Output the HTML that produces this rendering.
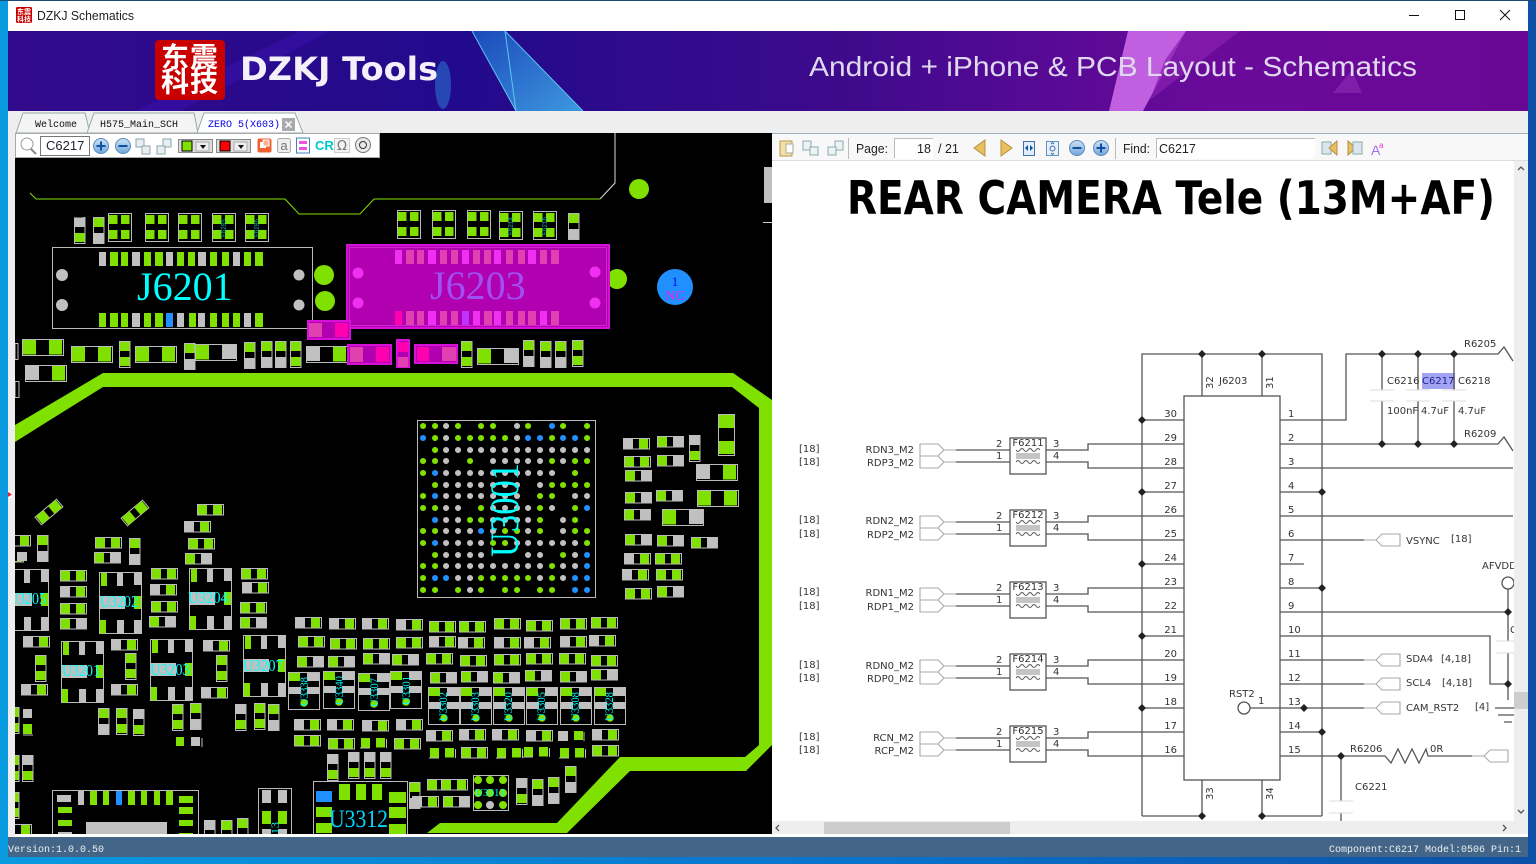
<!DOCTYPE html>
<html><head><meta charset="utf-8"><title>DZKJ Schematics</title>
<style>html,body{margin:0;padding:0;background:#0a90dc;width:1536px;height:864px;overflow:hidden}svg{display:block}
.s text{font-family:"DejaVu Sans",sans-serif;font-size:10px;fill:#333}
.s text:not([transform]){transform:translateY(-1px)}
.l{font-family:"Liberation Sans",sans-serif}
.m{font-family:"Liberation Mono",monospace;font-size:10px}
.u{font-family:"Liberation Serif",serif;fill:#0ff}
</style></head><body>
<svg width="1536" height="864" viewBox="0 0 1536 864" xmlns="http://www.w3.org/2000/svg">
<defs>
<linearGradient id="dk" x1="0" x2="1"><stop offset="0" stop-color="#0a9ae0"/><stop offset=".6" stop-color="#0a70c8"/><stop offset="1" stop-color="#0c50a8"/></linearGradient>
<linearGradient id="bn" x1="0" x2="1"><stop offset="0" stop-color="#320a8c"/><stop offset=".3" stop-color="#220a8c"/><stop offset=".55" stop-color="#3e0a8c"/><stop offset=".7" stop-color="#5a0a96"/><stop offset=".8" stop-color="#6a0a9a"/><stop offset="1" stop-color="#6a0896"/></linearGradient>
<linearGradient id="sh" x1="0" y1="0" x2="1" y2="1"><stop offset="0" stop-color="#1a50c0"/><stop offset="1" stop-color="#40a8e8"/></linearGradient>
<linearGradient id="bt" x1="0" y1="0" x2="0" y2="1"><stop offset="0" stop-color="#cfe2f6"/><stop offset="1" stop-color="#6ea8dc"/></linearGradient>
<clipPath id="pcb"><rect x="15" y="133" width="757" height="701"/></clipPath>
<clipPath id="doc"><rect x="772" y="161" width="742" height="660"/></clipPath>
<g id="a"><rect x=".5" y=".5" width="26" height="10.500" fill="#000" stroke="#bbb"/><rect x="1" y="1" width="9" height="9.500" fill="#80e000"/><rect x="16" y="1" width="9" height="9.500" fill="#80e000"/></g>
<g id="b"><rect x=".5" y=".5" width="26" height="10.500" fill="#000" stroke="#bbb"/><rect x="0" y="0" width="10" height="10.500" fill="#c0c0c0"/><rect x="16" y="1" width="9" height="9.500" fill="#80e000"/></g>
<g id="c"><rect x=".5" y=".5" width="26" height="10.500" fill="#000" stroke="#bbb"/><rect x="1" y="1" width="9" height="9.500" fill="#80e000"/><rect x="16" y="0" width="10" height="10.500" fill="#c0c0c0"/></g>
<g id="o"><path d="M26.500 2v9" stroke="#bbb"/><path d="M0 11h10" stroke="#bbb"/><rect x="1" y="1" width="9" height="9.500" fill="#80e000"/><rect x="16" y="1" width="9" height="9.500" fill="#80e000"/></g>
<g id="d"><rect x=".5" y=".5" width="10.500" height="26" fill="#000" stroke="#bbb"/><rect x="1" y="1" width="9.500" height="9" fill="#80e000"/><rect x="1" y="16" width="9.500" height="9" fill="#80e000"/></g>
<g id="e"><rect x=".5" y=".5" width="10.500" height="26" fill="#000" stroke="#bbb"/><rect x="1" y="1" width="9.500" height="9" fill="#80e000"/><rect x="0" y="16" width="10.500" height="10" fill="#c0c0c0"/></g>
<g id="f"><rect x=".5" y=".5" width="10.500" height="26" fill="#000" stroke="#bbb"/><rect x="0" y="0" width="10.500" height="10" fill="#c0c0c0"/><rect x="1" y="16" width="9.500" height="9" fill="#80e000"/></g>
<g id="A"><rect x=".5" y=".5" width="41" height="16" fill="#000" stroke="#bbb"/><rect x="1" y="1" width="13" height="14.500" fill="#80e000"/><rect x="27" y="1" width="13" height="14.500" fill="#80e000"/></g>
<g id="B"><rect x=".5" y=".5" width="41" height="16" fill="#000" stroke="#bbb"/><rect x="0" y="0" width="14" height="15" fill="#c0c0c0"/><rect x="27" y="1" width="13" height="14.500" fill="#80e000"/></g>
<g id="C"><rect x=".5" y=".5" width="41" height="16" fill="#000" stroke="#bbb"/><rect x="1" y="1" width="13" height="14.500" fill="#80e000"/><rect x="27" y="0" width="14" height="15" fill="#c0c0c0"/></g>
<g id="k"><rect x=".5" y=".5" width="23" height="28" fill="#000" stroke="#bbb"/><rect x="1" y="2" width="8.500" height="9" fill="#80e000"/><rect x="13" y="2" width="8.500" height="9" fill="#80e000"/><rect x="1" y="17" width="8.500" height="9" fill="#80e000"/><rect x="13" y="17" width="8.500" height="9" fill="#80e000"/></g>
<g id="q"><rect x=".5" y=".5" width="42" height="61" fill="#000" stroke="#bbb"/><rect x="2" y="1" width="6" height="13" fill="#80e000"/><rect x="18" y="1" width="6" height="13" fill="#c0c0c0"/><rect x="35" y="0" width="7.500" height="13" fill="#c0c0c0"/><rect x="0" y="24" width="26" height="13" fill="#c0c0c0"/><rect x="35" y="24" width="7" height="13" fill="#80e000"/><rect x="1" y="48" width="6" height="13.500" fill="#80e000"/><rect x="18" y="48" width="7" height="13.500" fill="#c0c0c0"/><rect x="35" y="48" width="7" height="13.500" fill="#c0c0c0"/></g>
<g id="n"><rect x=".5" y=".5" width="31" height="37" fill="#000" stroke="#bbb"/><rect x="1" y="1" width="11" height="8" fill="#80e000"/><rect x="19" y="1" width="12" height="8" fill="#c0c0c0"/><rect x="1" y="15" width="12" height="7" fill="#c0c0c0"/><rect x="19" y="15" width="12" height="7" fill="#c0c0c0"/><circle cx="16" cy="31" r="3.700" fill="#80e000"/></g>
</defs>

<rect width="1536" height="864" fill="url(#dk)"/>
<rect x="0" y="0" width="1536" height="1" fill="#1a4a70"/>
<rect x="8" y="1" width="1520" height="30" fill="#fff"/>
<rect x="16" y="7" width="16" height="16" rx="1.500" fill="#c80000"/>
<text x="24" y="14" font-family="'Noto Sans CJK SC',sans-serif" font-size="7" font-weight="700" fill="#fff" text-anchor="middle">东震</text>
<text x="24" y="21.500" font-family="'Noto Sans CJK SC',sans-serif" font-size="7" font-weight="700" fill="#fff" text-anchor="middle">科技</text>
<text x="37" y="20" class="l" font-size="12.500" fill="#222" textLength="97" lengthAdjust="spacingAndGlyphs">DZKJ Schematics</text>
<path d="M1409 15.500h10" stroke="#111"/><rect x="1455.500" y="10.500" width="9" height="9" fill="none" stroke="#111"/><path d="M1500 10l10 10M1510 10l-10 10" stroke="#111"/>

<!-- banner -->
<rect x="8" y="31" width="1520" height="80" fill="url(#bn)"/>
<polygon points="300,31 330,31 180,111 135,111" fill="#3a12b0" opacity=".5"/>
<ellipse cx="443" cy="85" rx="8" ry="24" fill="#2a70d0" opacity=".6"/>
<polygon points="472,31 505,31 583,111 516,111" fill="url(#sh)" opacity=".9"/>
<path d="M472 31L516 111M505 31L516 111M505 31L583 111" stroke="#5cc8f0" fill="none"/>
<polygon points="1128,31 1186,31 1143,111 1109,111" fill="#c060e0"/>
<polygon points="1186,31 1240,31 1150,100 1165,60" fill="#8a20b0" opacity=".7"/>
<polygon points="1333,93 1362,93 1352,70" fill="#8a28b0" opacity=".7"/>
<rect x="155" y="40" width="70" height="60" rx="4" fill="#c80000"/>
<text x="161" y="67" font-family="'Noto Sans CJK SC',sans-serif" font-size="28" font-weight="700" fill="#fff" letter-spacing="1">东震</text>
<text x="161" y="91.500" font-family="'Noto Sans CJK SC',sans-serif" font-size="28" font-weight="700" fill="#fff" letter-spacing="1">科技</text>
<text x="240" y="80" font-family="'DejaVu Sans',sans-serif" font-weight="700" font-size="32" fill="#f4f0fa" textLength="198" lengthAdjust="spacingAndGlyphs">DZKJ Tools</text>
<text x="809" y="76" class="l" font-size="28" fill="#e0d8ee" textLength="608" lengthAdjust="spacingAndGlyphs">Android + iPhone &amp; PCB Layout - Schematics</text>

<!-- body chrome -->
<rect x="8" y="111" width="1520" height="746" fill="#eee"/>
<path d="M16 133l7-20h62l5 20z" fill="#f4f4f4" stroke="#9aa"/>
<path d="M87 133l7-20h100l4 20z" fill="#f4f4f4" stroke="#9aa"/>
<path d="M197 133l7-20h91l8 20z" fill="#fff" stroke="#9aa"/>
<text x="35" y="127" class="m" fill="#111">Welcome</text>
<text x="100" y="127" class="m" fill="#111">H575_Main_SCH</text>
<text x="208" y="127" class="m" fill="#0000e0">ZERO 5(X603)</text>
<rect x="282" y="118" width="13" height="13" fill="#aaa"/><path d="M285.500 121.500l6 6M291.500 121.500l-6 6" stroke="#fff" stroke-width="1.500"/>

<!-- PCB -->
<rect x="15" y="133" width="757" height="701" fill="#000"/>
<g clip-path="url(#pcb)">
<path d="M30 193l6 6H285l14 15H360l14-15H600" fill="none" stroke="#80e000" stroke-width="1"/>
<path d="M600 199L615 183V133" fill="none" stroke="#ddd" stroke-width="1"/>
<rect x="764" y="167" width="8" height="36" fill="#c0c0c0"/><path d="M763 222.500h9" stroke="#ccc"/>
<polygon points="103,373 733,373 772,400 772,745 746,771 630,771 567,833 427,833 440,823 557,823 620,757 745,757 759,745 759,408 732,387 103,387 50,420 15,442 15,425" fill="#80e000"/>
<circle cx="639" cy="189" r="10" fill="#80e000"/>

<use href="#f" x="74" y="217"/><use href="#e" x="93" y="217"/>
<path d="M74.500 217h9" stroke="#000"/>
<use href="#k" x="108" y="213"/><use href="#k" x="145" y="213"/><use href="#k" x="178" y="213"/><use href="#k" x="212" y="213"/><use href="#k" x="245" y="213"/>
<use href="#k" x="397" y="210"/><use href="#k" x="432" y="210"/><use href="#k" x="467" y="210"/><use href="#k" x="499" y="211"/><use href="#k" x="533" y="211"/><use href="#e" x="568" y="213"/>
<g font-family="'Liberation Mono',monospace" font-size="7" fill="#00b8b8"><text transform="translate(226,237) rotate(-90)" textLength="18" lengthAdjust="spacingAndGlyphs">F6205</text><text transform="translate(259,237) rotate(-90)" textLength="18" lengthAdjust="spacingAndGlyphs">F6206</text><text transform="translate(513,235) rotate(-90)" textLength="18" lengthAdjust="spacingAndGlyphs">F6214</text><text transform="translate(547,235) rotate(-90)" textLength="18" lengthAdjust="spacingAndGlyphs">F6216</text></g>

<!-- J6201 -->
<rect x="52.500" y="247.500" width="260" height="81" fill="#000" stroke="#bbb"/>
<g fill="#c0c0c0"><rect x="99" y="252" width="7" height="14"/><rect x="132" y="252" width="8" height="14"/><rect x="166" y="252" width="7" height="14"/><rect x="198" y="252" width="8" height="14"/><rect x="233" y="252" width="7" height="14"/>
<rect x="132" y="313" width="8" height="14"/><rect x="177" y="313" width="7" height="14"/><rect x="198" y="313" width="7" height="14"/><rect x="244" y="313" width="7" height="14"/>
<circle cx="62" cy="275" r="6"/><circle cx="62" cy="305" r="6"/><circle cx="299" cy="275" r="5.500"/><circle cx="299" cy="305" r="5.500"/></g>
<g fill="#80e000"><rect x="110" y="252" width="8" height="14"/><rect x="121" y="252" width="7" height="14"/><rect x="144" y="252" width="7" height="14"/><rect x="155" y="252" width="8" height="14"/><rect x="177" y="252" width="7" height="14"/><rect x="188" y="252" width="7" height="14"/><rect x="210" y="252" width="7" height="14"/><rect x="222" y="252" width="7" height="14"/><rect x="244" y="252" width="7" height="14"/><rect x="255" y="252" width="8" height="14"/>
<rect x="99" y="313" width="7" height="14"/><rect x="110" y="313" width="8" height="14"/><rect x="121" y="313" width="7" height="14"/><rect x="144" y="313" width="7" height="14"/><rect x="155" y="313" width="8" height="14"/><rect x="189" y="313" width="7" height="14"/><rect x="210" y="313" width="7" height="14"/><rect x="222" y="313" width="7" height="14"/><rect x="233" y="313" width="7" height="14"/><rect x="255" y="313" width="8" height="14"/>
<circle cx="324" cy="275" r="10"/><circle cx="325" cy="301" r="10"/><circle cx="617" cy="279" r="10"/></g>
<rect x="166" y="313" width="7" height="14" fill="#2090ff"/>
<text x="137" y="300" class="u" font-size="40">J6201</text>

<!-- J6203 -->
<rect x="347" y="245" width="262" height="83" fill="#b000b0" stroke="#d810d8" stroke-width="2"/>
<rect x="349.500" y="247.500" width="257" height="78" fill="none" stroke="#d830d8" stroke-width=".8"/>
<g fill="#f030f0"><rect x="395" y="250" width="7" height="14"/><rect x="428" y="250" width="8" height="14"/><rect x="462" y="250" width="7" height="14"/><rect x="494" y="250" width="7" height="14"/><rect x="528" y="250" width="8" height="14"/><rect x="428" y="311" width="8" height="14"/><rect x="473" y="311" width="7" height="14"/><rect x="494" y="311" width="7" height="14"/><rect x="540" y="311" width="7" height="14"/>
<circle cx="358" cy="273" r="5.500"/><circle cx="358" cy="303" r="5.500"/><circle cx="595" cy="272" r="5.500"/><circle cx="595" cy="303" r="5.500"/></g>
<g fill="#e040b0"><rect x="406" y="250" width="8" height="14"/><rect x="417" y="250" width="7" height="14"/><rect x="440" y="250" width="7" height="14"/><rect x="451" y="250" width="7" height="14"/><rect x="473" y="250" width="7" height="14"/><rect x="484" y="250" width="7" height="14"/><rect x="506" y="250" width="7" height="14"/><rect x="518" y="250" width="7" height="14"/><rect x="540" y="250" width="7" height="14"/><rect x="551" y="250" width="8" height="14"/>
<rect x="406" y="311" width="8" height="14"/><rect x="417" y="311" width="7" height="14"/><rect x="440" y="311" width="7" height="14"/><rect x="451" y="311" width="7" height="14"/><rect x="484" y="311" width="8" height="14"/><rect x="506" y="311" width="7" height="14"/><rect x="518" y="311" width="7" height="14"/><rect x="528" y="311" width="8" height="14"/><rect x="551" y="311" width="8" height="14"/></g>
<rect x="395" y="311" width="7" height="14" fill="#ff00b0"/><rect x="462" y="311" width="7" height="14" fill="#c030ff"/>
<text x="430" y="299" class="u" font-size="40" style="fill:#a050f0">J6203</text>

<circle cx="675" cy="287" r="18" fill="#2090ff"/>
<text x="675" y="286" class="u" font-size="13" text-anchor="middle" style="fill:#0000ff">1</text>
<text x="675" y="300" class="u" font-size="14" text-anchor="middle" style="fill:#f020e0">NC</text>

<!-- row below connectors -->
<use href="#A" x="22" y="339"/><use href="#A" x="71" y="346"/><use href="#d" x="119" y="341"/><use href="#A" x="135" y="346"/><use href="#e" x="184" y="343"/><use href="#C" x="195" y="344"/><use href="#e" x="244" y="342"/><use href="#e" x="261" y="341"/><use href="#e" x="275" y="341"/><use href="#d" x="290" y="341"/><use href="#B" x="306" y="346"/>
<use href="#B" x="25" y="365"/><rect x="15" y="343.500" width="3" height="16" fill="none" stroke="#bbb"/><rect x="15" y="381.500" width="4" height="16" fill="none" stroke="#bbb"/>
<use href="#d" x="461" y="341"/><use href="#C" x="477" y="348"/><use href="#e" x="523" y="340"/><use href="#e" x="540" y="341"/><use href="#e" x="555" y="341"/><use href="#d" x="572" y="340"/>
<g><rect x="308" y="321" width="42" height="18" fill="#b000b0" stroke="#d810d8" stroke-width="2"/><rect x="309" y="323" width="13" height="14" fill="#e040b0"/><rect x="335" y="323" width="13" height="14" fill="#ff00b0"/>
<rect x="348" y="345" width="43" height="19" fill="#b000b0" stroke="#d810d8" stroke-width="2"/><rect x="350" y="347" width="13" height="15" fill="#e040b0"/><rect x="376" y="347" width="13" height="15" fill="#ff00b0"/>
<rect x="397" y="340" width="12" height="27" fill="#b000b0" stroke="#d810d8" stroke-width="2"/><rect x="398" y="342" width="10" height="10" fill="#ff00b0"/><rect x="398" y="357" width="10" height="10" fill="#e040b0"/>
<rect x="415" y="345" width="42" height="18" fill="#b000b0" stroke="#d810d8" stroke-width="2"/><rect x="417" y="347" width="12" height="14" fill="#ff00b0"/><rect x="442" y="347" width="14" height="14" fill="#e040b0"/></g>

<!-- U3001 -->
<rect x="417.500" y="420.500" width="178" height="177" fill="none" stroke="#bbb"/>
<path stroke-linecap="round" stroke-width="6" fill="none" stroke="#80e000" d="M423 426h.1M435 426h.1M458 426h.1M481 426h.1M493 426h.1M528 426h.1M563 426h.1M587 426h.1M435 438h.1M458 438h.1M470 438h.1M481 438h.1M493 438h.1M505 438h.1M552 438h.1M587 438h.1M435 450h.1M423 461h.1M435 461h.1M470 461h.1M552 461h.1M575 461h.1M587 461h.1M423 473h.1M575 473h.1M435 485h.1M552 485h.1M563 485h.1M575 485h.1M587 485h.1M423 496h.1M540 496h.1M552 496h.1M423 508h.1M435 508h.1M481 508h.1M540 508h.1M575 508h.1M470 520h.1M481 520h.1M540 520h.1M575 520h.1M423 531h.1M435 531h.1M505 531h.1M517 531h.1M540 531h.1M575 531h.1M587 531h.1M423 543h.1M493 543h.1M505 543h.1M587 543h.1M435 555h.1M563 555h.1M423 566h.1M435 566h.1M552 566h.1M423 578h.1M481 578h.1M493 578h.1M505 578h.1M517 578h.1M528 578h.1M552 578h.1M423 590h.1M435 590h.1M458 590h.1M481 590h.1M505 590h.1M517 590h.1M540 590h.1M552 590h.1"/>
<path stroke-linecap="round" stroke-width="6" fill="none" stroke="#c0c0c0" d="M446 426h.1M517 426h.1M446 438h.1M517 438h.1M446 450h.1M458 450h.1M470 450h.1M481 450h.1M493 450h.1M505 450h.1M517 450h.1M528 450h.1M540 450h.1M552 450h.1M563 450h.1M575 450h.1M587 450h.1M446 461h.1M493 461h.1M505 461h.1M517 461h.1M528 461h.1M540 461h.1M563 461h.1M446 473h.1M458 473h.1M470 473h.1M481 473h.1M493 473h.1M505 473h.1M517 473h.1M528 473h.1M540 473h.1M552 473h.1M446 485h.1M458 485h.1M470 485h.1M481 485h.1M493 485h.1M505 485h.1M517 485h.1M540 485h.1M446 496h.1M458 496h.1M470 496h.1M481 496h.1M493 496h.1M505 496h.1M517 496h.1M575 496h.1M587 496h.1M446 508h.1M458 508h.1M493 508h.1M505 508h.1M517 508h.1M528 508h.1M552 508h.1M446 520h.1M458 520h.1M493 520h.1M505 520h.1M517 520h.1M528 520h.1M563 520h.1M446 531h.1M458 531h.1M470 531h.1M493 531h.1M528 531h.1M563 531h.1M446 543h.1M458 543h.1M470 543h.1M481 543h.1M517 543h.1M528 543h.1M540 543h.1M552 543h.1M563 543h.1M575 543h.1M446 555h.1M458 555h.1M470 555h.1M481 555h.1M528 555h.1M540 555h.1M575 555h.1M446 566h.1M458 566h.1M470 566h.1M481 566h.1M493 566h.1M505 566h.1M517 566h.1M528 566h.1M540 566h.1M563 566h.1M575 566h.1M458 578h.1M470 578h.1M540 578h.1M563 578h.1M470 590h.1"/>
<path stroke-linecap="round" stroke-width="6" fill="none" stroke="#2090ff" d="M552 426h.1M423 438h.1M528 438h.1M540 438h.1M563 438h.1M575 438h.1M435 473h.1M435 496h.1M587 508h.1M435 520h.1M481 531h.1M435 543h.1M587 555h.1M587 566h.1M435 578h.1M446 578h.1M575 578h.1M587 578h.1M575 590h.1M587 590h.1"/>
<text transform="translate(518,557) rotate(-90)" class="u" font-size="40" textLength="94" lengthAdjust="spacingAndGlyphs">U3001</text>

<!-- right of BGA -->
<use href="#b" x="623" y="438"/><use href="#c" x="657" y="436"/><use href="#f" x="689" y="435"/>
<g transform="translate(718,414)"><rect x=".5" y=".5" width="16" height="41" fill="#000" stroke="#bbb"/><rect x="1" y="1" width="15" height="13" fill="#80e000"/><rect x="1" y="27" width="15" height="13" fill="#80e000"/></g>
<use href="#a" x="624" y="456"/><use href="#c" x="657" y="455"/><use href="#c" x="625" y="470"/><use href="#B" x="696" y="464"/><use href="#c" x="625" y="492"/><use href="#c" x="656" y="490"/><use href="#A" x="697" y="490"/><use href="#c" x="624" y="509"/><use href="#C" x="662" y="509"/><use href="#c" x="625" y="534"/><use href="#c" x="657" y="535"/><use href="#c" x="691" y="537"/><use href="#b" x="624" y="553"/><use href="#a" x="655" y="553"/><use href="#b" x="622" y="569"/><use href="#a" x="656" y="569"/><use href="#a" x="625" y="588"/><use href="#c" x="657" y="586"/>

<!-- left area -->
<g transform="translate(49,512) rotate(-40)"><rect x="-14" y="-5" width="28" height="10" fill="none" stroke="#bbb"/><rect x="-13" y="-5" width="10" height="10" fill="#80e000"/><rect x="3" y="-5" width="10" height="10" fill="#80e000"/></g>
<g transform="translate(135,513) rotate(-40)"><rect x="-14" y="-5" width="28" height="10" fill="none" stroke="#bbb"/><rect x="-13" y="-5" width="10" height="10" fill="#80e000"/><rect x="3" y="-5" width="10" height="10" fill="#80e000"/></g>
<use href="#a" x="197" y="504"/><use href="#b" x="184" y="521"/><use href="#a" x="188" y="538"/><use href="#c" x="185" y="553"/><use href="#a" x="95" y="537"/><use href="#e" x="129" y="538"/><use href="#c" x="94" y="552"/>
<use href="#b" x="4" y="535"/><use href="#b" x="-3" y="551"/><rect x="15" y="551" width="12" height="10" fill="#000"/><rect x="17" y="552" width="10" height="9" fill="#c0c0c0"/><use href="#e" x="37" y="535"/>
<use href="#q" x="6" y="569"/><use href="#q" x="99" y="572"/><use href="#q" x="189" y="568"/><use href="#q" x="61" y="641"/><use href="#q" x="150" y="639"/><use href="#q" x="243" y="635"/>
<g class="u" font-size="17" font-family="'Liberation Serif',serif"><text x="8" y="604" textLength="38" lengthAdjust="spacingAndGlyphs">U3205</text><text x="100" y="607" textLength="38" lengthAdjust="spacingAndGlyphs">U3202</text><text x="188" y="603" textLength="40" lengthAdjust="spacingAndGlyphs">U3204</text><text x="62" y="676" textLength="38" lengthAdjust="spacingAndGlyphs">U3201</text><text x="150" y="675" textLength="40" lengthAdjust="spacingAndGlyphs">U3203</text><text x="243" y="671" textLength="40" lengthAdjust="spacingAndGlyphs">U3207</text></g>
<use href="#a" x="151" y="568"/><use href="#b" x="150" y="584"/><use href="#a" x="151" y="601"/><use href="#c" x="149" y="616"/>
<use href="#a" x="60" y="570"/><use href="#b" x="60" y="586"/><use href="#a" x="60" y="603"/><use href="#c" x="60" y="618"/>
<use href="#a" x="241" y="568"/><use href="#b" x="242" y="582"/><use href="#a" x="240" y="602"/><use href="#c" x="240" y="617"/>
<use href="#b" x="23" y="636"/><use href="#d" x="35" y="655"/><use href="#b" x="21" y="684"/><use href="#b" x="111" y="639"/><use href="#d" x="125" y="653"/><use href="#b" x="111" y="684"/><use href="#b" x="203" y="640"/><use href="#d" x="216" y="655"/><use href="#b" x="201" y="687"/>
<use href="#e" x="98" y="708"/><use href="#d" x="116" y="708"/><use href="#f" x="133" y="709"/><use href="#d" x="172" y="704"/><use href="#e" x="190" y="703"/><use href="#f" x="235" y="704"/><use href="#d" x="254" y="703"/><use href="#e" x="268" y="704"/>
<use href="#d" x="8" y="707"/><rect x="23" y="709" width="9" height="9" fill="#c0c0c0"/><rect x="23" y="724" width="9" height="10" fill="#80e000"/><path d="M23 735h10" stroke="#bbb"/>
<use href="#d" x="8" y="755"/><use href="#f" x="22" y="755"/><use href="#d" x="8" y="792"/><use href="#b" x="5" y="824"/>
<rect x="176" y="737" width="8" height="9" fill="#80e000"/><rect x="191" y="737" width="9" height="9" fill="#c0c0c0"/><path d="M202 738v9" stroke="#bbb"/>

<!-- rows -->
<use href="#b" x="295" y="617"/><use href="#b" x="329" y="618"/><use href="#b" x="362" y="618"/><use href="#b" x="396" y="619"/><use href="#a" x="429" y="621"/><use href="#a" x="459" y="621"/><use href="#a" x="494" y="618"/><use href="#a" x="526" y="620"/><use href="#a" x="560" y="618"/><use href="#a" x="591" y="617"/>
<use href="#a" x="298" y="636"/><use href="#a" x="330" y="638"/><use href="#a" x="363" y="638"/><use href="#a" x="396" y="637"/><use href="#b" x="429" y="636"/><use href="#b" x="458" y="637"/><use href="#b" x="494" y="637"/><use href="#b" x="524" y="637"/><use href="#b" x="560" y="636"/><use href="#b" x="589" y="635"/>
<use href="#c" x="297" y="656"/><use href="#c" x="328" y="656"/><use href="#c" x="363" y="653"/><use href="#c" x="392" y="654"/><use href="#a" x="426" y="653"/><use href="#a" x="460" y="655"/><use href="#a" x="494" y="654"/><use href="#a" x="526" y="653"/><use href="#a" x="559" y="653"/><use href="#a" x="591" y="655"/>
<use href="#c" x="430" y="672"/><use href="#c" x="461" y="671"/><use href="#c" x="493" y="672"/><use href="#c" x="525" y="670"/><use href="#c" x="560" y="671"/><use href="#c" x="591" y="669"/>
<use href="#n" x="288" y="672"/><use href="#n" x="323" y="671"/><use href="#n" x="358" y="673"/><use href="#n" x="390" y="671"/><use href="#n" x="428" y="687"/><use href="#n" x="460" y="687"/><use href="#n" x="493" y="687"/><use href="#n" x="526" y="687"/><use href="#n" x="560" y="687"/><use href="#n" x="594" y="687"/>
<g class="u" font-size="12" font-family="'Liberation Mono',monospace"><text transform="translate(308,706) rotate(-90)" textLength="29" lengthAdjust="spacingAndGlyphs">U3338</text><text transform="translate(343,705) rotate(-90)" textLength="29" lengthAdjust="spacingAndGlyphs">U3340</text><text transform="translate(378,707) rotate(-90)" textLength="29" lengthAdjust="spacingAndGlyphs">U3307</text><text transform="translate(410,705) rotate(-90)" textLength="29" lengthAdjust="spacingAndGlyphs">U3301</text><text transform="translate(447,721) rotate(-90)" textLength="29" lengthAdjust="spacingAndGlyphs">U3302</text><text transform="translate(479,721) rotate(-90)" textLength="29" lengthAdjust="spacingAndGlyphs">U3303</text><text transform="translate(512,721) rotate(-90)" textLength="29" lengthAdjust="spacingAndGlyphs">U3320</text><text transform="translate(545,721) rotate(-90)" textLength="29" lengthAdjust="spacingAndGlyphs">U3305</text><text transform="translate(579,721) rotate(-90)" textLength="29" lengthAdjust="spacingAndGlyphs">U3308</text><text transform="translate(613,721) rotate(-90)" textLength="29" lengthAdjust="spacingAndGlyphs">U3328</text></g>
<use href="#b" x="294" y="719"/><use href="#b" x="327" y="719"/><use href="#b" x="362" y="720"/><use href="#b" x="396" y="719"/><use href="#b" x="426" y="730"/><use href="#b" x="459" y="729"/><use href="#b" x="492" y="729"/><use href="#b" x="526" y="730"/><rect x="558" y="731" width="10" height="10" fill="#c0c0c0"/><rect x="574" y="731" width="9" height="9" fill="#80e000"/><path d="M584 732v9" stroke="#bbb"/><use href="#b" x="592" y="729"/>
<use href="#a" x="294" y="735"/><use href="#a" x="328" y="738"/><use href="#o" x="360" y="737"/><use href="#a" x="394" y="738"/><use href="#o" x="429" y="747"/><use href="#a" x="461" y="747"/><use href="#o" x="496" y="747"/><use href="#o" x="523" y="746"/><use href="#o" x="559" y="747"/><use href="#a" x="592" y="745"/>
<use href="#f" x="327" y="754"/><use href="#f" x="348" y="752"/><use href="#f" x="364" y="752"/><use href="#f" x="380" y="752"/>
<use href="#e" x="409" y="782"/><use href="#a" x="427" y="779"/><use href="#a" x="441" y="779"/><use href="#b" x="412" y="796"/><use href="#c" x="443" y="796"/>

<!-- U3312 -->
<rect x="313.500" y="781.500" width="94" height="54" fill="#000" stroke="#bbb"/>
<rect x="316" y="791" width="16" height="11" fill="#2090ff"/>
<g fill="#80e000"><rect x="339" y="784" width="11" height="16"/><rect x="356" y="784" width="10" height="16"/><rect x="372" y="784" width="10" height="16"/><rect x="389" y="792" width="17" height="11"/><rect x="389" y="807" width="17" height="11"/><rect x="389" y="824" width="17" height="11"/><rect x="316" y="807" width="16" height="10"/><rect x="316" y="823" width="16" height="10"/></g>
<text x="329" y="827" class="u" font-size="25" textLength="59" lengthAdjust="spacingAndGlyphs" style="fill:#00d8ff">U3312</text>

<!-- U3313 -->
<rect x="473.500" y="775.500" width="35" height="35" fill="#000" stroke="#bbb"/>
<g fill="#80e000"><circle cx="478" cy="780" r="4"/><circle cx="490" cy="780" r="4"/><circle cx="503" cy="780" r="4"/><circle cx="478" cy="793" r="4"/><circle cx="490" cy="793" r="4"/><circle cx="503" cy="793" r="4"/><circle cx="478" cy="805" r="4"/><circle cx="503" cy="805" r="4"/></g><circle cx="490" cy="805" r="4" fill="#c0c0c0"/>
<text x="475" y="796" class="u" font-size="11" textLength="30" lengthAdjust="spacingAndGlyphs">U3313</text>
<use href="#f" x="516" y="778"/><use href="#e" x="532" y="779"/><use href="#e" x="548" y="777"/><use href="#e" x="565" y="766"/>

<!-- bottom-left chip -->
<rect x="52.500" y="790.500" width="146" height="50" fill="#000" stroke="#bbb"/>
<rect x="57" y="795" width="14" height="7" fill="#c0c0c0"/><rect x="78" y="791" width="6" height="14" fill="#c0c0c0"/><rect x="86" y="822" width="81" height="13" fill="#c0c0c0"/>
<g fill="#80e000"><rect x="90" y="791" width="7" height="14"/><rect x="103" y="791" width="6" height="14"/><rect x="128" y="791" width="7" height="14"/><rect x="141" y="791" width="6" height="14"/><rect x="154" y="791" width="6" height="14"/><rect x="166" y="791" width="7" height="14"/><rect x="58" y="807" width="14" height="6"/><rect x="58" y="820" width="14" height="6"/><rect x="179" y="796" width="14" height="7"/><rect x="179" y="807" width="14" height="7"/><rect x="179" y="820" width="14" height="6"/><rect x="179" y="833" width="14" height="3"/></g>
<rect x="58" y="832" width="14" height="3" fill="#c0c0c0"/><rect x="116" y="791" width="6" height="14" fill="#2090ff"/>
<use href="#f" x="204" y="820"/><use href="#e" x="221" y="820"/><use href="#e" x="237" y="818"/>
<rect x="258.500" y="788.500" width="33" height="50" fill="#000" stroke="#bbb"/>
<g fill="#c0c0c0"><rect x="262" y="790" width="9" height="13"/><rect x="278" y="790" width="9" height="13"/><rect x="262" y="829" width="9" height="6"/><rect x="278" y="829" width="9" height="6"/></g>
<rect x="262" y="811" width="9" height="13" fill="#80e000"/><rect x="278" y="811" width="9" height="13" fill="#80e000"/>
<text transform="translate(279,834) rotate(-90)" class="u" font-size="12">13</text>
</g>

<!-- left toolbar -->
<rect x="15.500" y="133.500" width="364" height="24" fill="#fff" stroke="#aaa"/>
<circle cx="27" cy="144" r="6" fill="none" stroke="#999"/><path d="M31 149l5 5" stroke="#888" stroke-width="2"/>
<rect x="40.500" y="136.500" width="49" height="19" fill="#fff" stroke="#777"/>
<text x="46" y="150" class="l" font-size="13" fill="#223">C6217</text>
<circle cx="101" cy="146" r="7.500" fill="url(#bt)" stroke="#5a8abc"/><path d="M96.500 146h9M101 141.500v9" stroke="#1050a0" stroke-width="2"/>
<circle cx="123" cy="146" r="7.500" fill="url(#bt)" stroke="#5a8abc"/><path d="M118.500 146h9" stroke="#1050a0" stroke-width="2"/>
<g fill="#e8eef4" stroke="#8aa"><rect x="136" y="139" width="8" height="8"/><rect x="142" y="146" width="8" height="8"/><rect x="163" y="139" width="8" height="8"/><rect x="157" y="146" width="8" height="8"/></g>
<g><rect x="178.500" y="139.500" width="34" height="13" fill="#ddd" stroke="#888"/><rect x="182" y="141" width="10" height="10" fill="#80e000" stroke="#000"/><rect x="196" y="142" width="13" height="9" fill="#eee" stroke="#aaa"/><path d="M200 145h6l-3 4z" fill="#111"/>
<rect x="216.500" y="139.500" width="34" height="13" fill="#ddd" stroke="#888"/><rect x="220" y="141" width="10" height="10" fill="#f00" stroke="#000"/><rect x="234" y="142" width="13" height="9" fill="#eee" stroke="#aaa"/><path d="M238 145h6l-3 4z" fill="#111"/></g>
<rect x="257.500" y="138.500" width="14" height="14" rx="2" fill="#f06030"/><rect x="260" y="142" width="6" height="6" fill="#fff"/><rect x="263" y="140" width="6" height="6" fill="#f8b090" stroke="#fff"/>
<rect x="277.500" y="138.500" width="13" height="14" rx="2" fill="#eee" stroke="#aaa"/><text x="284" y="150" text-anchor="middle" class="l" font-size="13" fill="#777">a</text>
<rect x="296.500" y="138" width="13" height="15" fill="#fff" stroke="#4080c0"/><rect x="299" y="141" width="8" height="3" fill="#f050e0"/><rect x="299" y="147" width="8" height="3" fill="#f050e0"/>
<text x="315" y="150" class="l" font-size="13" font-weight="700" fill="#00c8d0">CR</text>
<rect x="334.500" y="138.500" width="15" height="14" fill="#f2f2f2" stroke="#ccc"/><text x="342" y="150" text-anchor="middle" font-family="'DejaVu Sans',sans-serif" font-size="13" fill="#777">Ω</text>
<circle cx="363" cy="145" r="7.500" fill="#e8e8e8" stroke="#777"/><circle cx="363" cy="145" r="3.500" fill="none" stroke="#333"/>

<!-- right toolbar -->
<rect x="772" y="133" width="756" height="28" fill="#f8f8f8"/>
<path d="M772 133.500H1528" stroke="#a0b0bc"/><path d="M772 160.500H1528" stroke="#ddd"/>
<rect x="780" y="141" width="12" height="15" fill="#f4e0a8" stroke="#b89850"/><rect x="786" y="144" width="7" height="9" fill="#fff" stroke="#aa9"/>
<g fill="#eef2f6" stroke="#8aa"><rect x="803" y="141" width="8" height="9"/><rect x="810" y="147" width="8" height="8"/><rect x="835" y="141" width="8" height="9"/><rect x="828" y="147" width="8" height="8"/></g>
<path d="M848.500 138v21M1115.500 138v21" stroke="#bbb"/>
<text x="856" y="153" class="l" font-size="12.500" fill="#222" textLength="32" lengthAdjust="spacingAndGlyphs">Page:</text>
<rect x="894" y="138.500" width="39" height="20" fill="#fff"/><path d="M894.500 158V138.500H933" stroke="#bbb" fill="none"/>
<text x="917" y="153" class="l" font-size="12.500" fill="#222">18</text>
<text x="938" y="153" class="l" font-size="12.500" fill="#222">/ 21</text>
<path d="M985 140v16l-11-8z" fill="#e8c060" stroke="#b89040"/><path d="M1001 140v16l11-8z" fill="#e8c060" stroke="#b89040"/>
<rect x="1023.500" y="141.500" width="11" height="14" fill="#e0ecf8" stroke="#4070b0"/><path d="M1028 145l-3 3 3 3zM1030 145l3 3-3 3z" fill="#1050a0"/>
<rect x="1046.500" y="141.500" width="12" height="14" fill="#e8f0f8" stroke="#6090c0"/><circle cx="1052.500" cy="148.500" r="2.500" fill="none" stroke="#4070b0"/><path d="M1051 144l1.500-1.500 1.500 1.500M1051 153l1.500 1.500 1.500-1.500" fill="none" stroke="#4070b0"/>
<circle cx="1077" cy="148" r="7.500" fill="url(#bt)" stroke="#5a8abc"/><path d="M1072.500 148h9" stroke="#1050a0" stroke-width="2"/>
<circle cx="1101" cy="148" r="7.500" fill="url(#bt)" stroke="#5a8abc"/><path d="M1096.500 148h9M1101 143.500v9" stroke="#1050a0" stroke-width="2"/>
<text x="1123" y="153" class="l" font-size="12.500" fill="#222" textLength="27" lengthAdjust="spacingAndGlyphs">Find:</text>
<rect x="1156" y="138.500" width="159" height="20" fill="#fff"/><path d="M1156.500 158V138.500H1315" stroke="#bbb" fill="none"/>
<text x="1159" y="153" class="l" font-size="12.500" fill="#222">C6217</text>
<rect x="1322" y="142" width="9" height="12" fill="#dde6ee" stroke="#8aa"/><path d="M1337 141v14l-8-7z" fill="#e8c060" stroke="#b89040"/>
<path d="M1348 141v14l8-7z" fill="#e8c060" stroke="#b89040"/><rect x="1353" y="142" width="9" height="12" fill="#dde6ee" stroke="#8aa"/>
<text x="1371" y="155" class="l" font-size="14" fill="#9a70f0">A</text><text x="1379" y="148" class="l" font-size="8" fill="#f030c0">a</text>

<!-- doc -->
<rect x="772" y="161" width="742" height="660" fill="#fff"/>
<rect x="1514" y="161" width="14" height="660" fill="#eee"/>
<rect x="1514" y="692" width="14" height="17" fill="#cdcdcd"/>
<path d="M1518 170l3-3 3 3M1518 810l3 3 3-3M779 825l-3 3 3 3M1503 825l3 3-3 3" fill="none" stroke="#555" stroke-width="1.300"/>
<rect x="824" y="822" width="186" height="12" fill="#cdcdcd"/>
<rect x="772" y="834" width="756" height="3" fill="#fff"/><rect x="15" y="834" width="757" height="3" fill="#fff"/>
<text x="847" y="214" font-family="'DejaVu Sans',sans-serif" font-size="46" font-weight="700" fill="#000" textLength="648" lengthAdjust="spacingAndGlyphs">REAR CAMERA Tele (13M+AF)</text>

<g class="s" clip-path="url(#doc)">
<rect x="1422" y="373" width="33" height="16" fill="#a4a4f4"/>
<g fill="none" stroke="#555" stroke-width="1.300">
<path d="M1142 816V354H1322V816"/><path d="M1142 816H1202M1262 816H1322"/>
<rect x="1184" y="396" width="96" height="384"/>
<path d="M1202 354V396M1262 354V396M1202 780V816M1262 780V816"/>
<path d="M1142 420H1184M1142 492H1184M1142 564H1184M1142 636H1184M1142 708H1184"/>
<path d="M1280 420H1346V354H1498l6-7 9 14M1280 444H1498l6-7 9 14M1280 468H1513M1280 492H1322M1280 516H1513M1280 540H1364M1280 564H1304M1280 588H1322M1280 612H1508M1280 636H1490V684H1508M1280 660H1364M1280 684H1364M1250 708H1364M1280 732H1322M1280 756H1385l6 7 7-14 7 14 7-14 7 14 7-14 2 7H1472"/>
<path d="M1382 354V390M1418 354V390M1454 354V390M1382 401V444M1418 401V444M1454 401V444M1508 589V641M1508 653V700M1341 756V801M1341 813V821"/>
<!-- F nets -->
<path d="M956 450H1010M1046 450H1088V444H1184M956 462H1010M1046 462H1088V468H1184"/>
<path d="M956 522H1010M1046 522H1088V516H1184M956 534H1010M1046 534H1088V540H1184"/>
<path d="M956 594H1010M1046 594H1088V588H1184M956 606H1010M1046 606H1088V612H1184"/>
<path d="M956 666H1010M1046 666H1088V660H1184M956 678H1010M1046 678H1088V684H1184"/>
<path d="M956 738H1010M1046 738H1088V732H1184M956 750H1010M1046 750H1088V756H1184"/>
<rect x="1010" y="438" width="36" height="36"/><rect x="1010" y="510" width="36" height="36"/><rect x="1010" y="582" width="36" height="36"/><rect x="1010" y="654" width="36" height="36"/><rect x="1010" y="726" width="36" height="36"/>
<circle cx="1244" cy="708" r="6"/><circle cx="1508" cy="583" r="6"/>
<path d="M1495 708H1514M1498 715H1514M1504 722H1512"/>
</g>
<g fill="none" stroke="#555" stroke-width="1">
<path d="M1016 450q2 3 4 0t4 0 4 0 4 0 4 0 4 0M1016 462q2-3 4 0t4 0 4 0 4 0 4 0 4 0"/>
<path d="M1016 522q2 3 4 0t4 0 4 0 4 0 4 0 4 0M1016 534q2-3 4 0t4 0 4 0 4 0 4 0 4 0"/>
<path d="M1016 594q2 3 4 0t4 0 4 0 4 0 4 0 4 0M1016 606q2-3 4 0t4 0 4 0 4 0 4 0 4 0"/>
<path d="M1016 666q2 3 4 0t4 0 4 0 4 0 4 0 4 0M1016 678q2-3 4 0t4 0 4 0 4 0 4 0 4 0"/>
<path d="M1016 738q2 3 4 0t4 0 4 0 4 0 4 0 4 0M1016 750q2-3 4 0t4 0 4 0 4 0 4 0 4 0"/>
<path stroke="#888" d="M1016 454H1040M1016 456H1040M1016 458H1040M1016 526H1040M1016 528H1040M1016 530H1040M1016 598H1040M1016 600H1040M1016 602H1040M1016 670H1040M1016 672H1040M1016 674H1040M1016 742H1040M1016 744H1040M1016 746H1040"/>
</g>
<g fill="none" stroke="#aaa" stroke-width="1.100">
<path d="M920 444H938L944 450 938 456H920ZM920 456H938L944 462 938 468H920Z"/>
<path d="M920 516H938L944 522 938 528H920ZM920 528H938L944 534 938 540H920Z"/>
<path d="M920 588H938L944 594 938 600H920ZM920 600H938L944 606 938 612H920Z"/>
<path d="M920 660H938L944 666 938 672H920ZM920 672H938L944 678 938 684H920Z"/>
<path d="M920 732H938L944 738 938 744H920ZM920 744H938L944 750 938 756H920Z"/>
<path d="M944 450H956M944 462H956M944 522H956M944 534H956M944 594H956M944 606H956M944 666H956M944 678H956M944 738H956M944 750H956"/>
<path d="M1364 540H1376M1364 660H1376M1364 684H1376M1364 708H1376M1472 756H1484"/>
<path d="M1376 540l6-6H1400V546H1382ZM1376 660l6-6H1400V666H1382ZM1376 684l6-6H1400V690H1382ZM1376 708l6-6H1400V714H1382ZM1484 756l6-6H1508V762H1490Z"/>
</g>
<g stroke="#ddd" stroke-width="1"><path d="M1370 390H1394M1406 390H1430M1442 390H1466M1370 401H1394M1406 401H1430M1442 401H1466M1496 641H1514M1496 653H1514M1329 801H1353M1329 813H1353"/></g>
<g fill="#222">
<path d="M1142 416l4 4-4 4-4-4zM1142 488l4 4-4 4-4-4zM1142 560l4 4-4 4-4-4zM1142 632l4 4-4 4-4-4zM1142 704l4 4-4 4-4-4z"/>
<path d="M1202 350l4 4-4 4-4-4zM1262 350l4 4-4 4-4-4zM1202 812l4 4-4 4-4-4zM1262 812l4 4-4 4-4-4z"/>
<path d="M1322 488l4 4-4 4-4-4zM1322 584l4 4-4 4-4-4zM1322 728l4 4-4 4-4-4zM1304 704l4 4-4 4-4-4zM1341 752l4 4-4 4-4-4z"/>
<path d="M1382 350l4 4-4 4-4-4zM1418 350l4 4-4 4-4-4zM1454 350l4 4-4 4-4-4zM1382 440l4 4-4 4-4-4zM1418 440l4 4-4 4-4-4zM1454 440l4 4-4 4-4-4zM1508 608l4 4-4 4-4-4zM1508 680l4 4-4 4-4-4z"/>
</g>
<!-- left pin numbers -->
<g text-anchor="end">
<text x="1177" y="418">30</text><text x="1177" y="442">29</text><text x="1177" y="466">28</text><text x="1177" y="490">27</text><text x="1177" y="514">26</text><text x="1177" y="538">25</text><text x="1177" y="562">24</text><text x="1177" y="586">23</text><text x="1177" y="610">22</text><text x="1177" y="634">21</text><text x="1177" y="658">20</text><text x="1177" y="682">19</text><text x="1177" y="706">18</text><text x="1177" y="730">17</text><text x="1177" y="754">16</text>
</g>
<text x="1288" y="418">1</text><text x="1288" y="442">2</text><text x="1288" y="466">3</text><text x="1288" y="490">4</text><text x="1288" y="514">5</text><text x="1288" y="538">6</text><text x="1288" y="562">7</text><text x="1288" y="586">8</text><text x="1288" y="610">9</text><text x="1288" y="634">10</text><text x="1288" y="658">11</text><text x="1288" y="682">12</text><text x="1288" y="706">13</text><text x="1288" y="730">14</text><text x="1288" y="754">15</text>
<text transform="translate(1213,389) rotate(-90)">32</text><text transform="translate(1273,389) rotate(-90)">31</text><text transform="translate(1213,800) rotate(-90)">33</text><text transform="translate(1273,800) rotate(-90)">34</text>
<text x="1219" y="385">J6203</text>
<text x="1387" y="385">C6216</text><text x="1422" y="385" style="fill:#202090">C6217</text><text x="1458" y="385">C6218</text>
<text x="1387" y="415">100nF</text><text x="1421" y="415">4.7uF</text><text x="1458" y="415">4.7uF</text>
<text x="1464" y="348">R6205</text><text x="1464" y="438">R6209</text>
<text x="1406" y="545">VSYNC</text><text x="1451" y="543">[18]</text>
<text x="1482" y="570">AFVDD</text><text x="1510" y="634">C</text>
<text x="1406" y="663">SDA4</text><text x="1441" y="663">[4,18]</text>
<text x="1406" y="687">SCL4</text><text x="1442" y="687">[4,18]</text>
<text x="1406" y="712">CAM_RST2</text><text x="1475" y="711">[4]</text>
<text x="1229" y="698">RST2</text><text x="1258" y="705">1</text>
<text x="1350" y="753">R6206</text><text x="1430" y="753">0R</text><text x="1355" y="791">C6221</text>
<!-- F labels -->
<g text-anchor="middle">
<text x="1028" y="447">F6211</text><text x="1028" y="519">F6212</text><text x="1028" y="591">F6213</text><text x="1028" y="663">F6214</text><text x="1028" y="735">F6215</text>
</g>
<text x="996" y="448">2</text><text x="996" y="460">1</text><text x="1053" y="448">3</text><text x="1053" y="460">4</text>
<text x="996" y="520">2</text><text x="996" y="532">1</text><text x="1053" y="520">3</text><text x="1053" y="532">4</text>
<text x="996" y="592">2</text><text x="996" y="604">1</text><text x="1053" y="592">3</text><text x="1053" y="604">4</text>
<text x="996" y="664">2</text><text x="996" y="676">1</text><text x="1053" y="664">3</text><text x="1053" y="676">4</text>
<text x="996" y="736">2</text><text x="996" y="748">1</text><text x="1053" y="736">3</text><text x="1053" y="748">4</text>
<g text-anchor="end">
<text x="914" y="454">RDN3_M2</text><text x="914" y="467">RDP3_M2</text>
<text x="914" y="525">RDN2_M2</text><text x="914" y="539">RDP2_M2</text>
<text x="914" y="597">RDN1_M2</text><text x="914" y="611">RDP1_M2</text>
<text x="914" y="670">RDN0_M2</text><text x="914" y="683">RDP0_M2</text>
<text x="914" y="742">RCN_M2</text><text x="914" y="755">RCP_M2</text>
</g>
<text x="799" y="453">[18]</text><text x="799" y="466">[18]</text><text x="799" y="524">[18]</text><text x="799" y="538">[18]</text><text x="799" y="596">[18]</text><text x="799" y="610">[18]</text><text x="799" y="669">[18]</text><text x="799" y="682">[18]</text><text x="799" y="741">[18]</text><text x="799" y="754">[18]</text>
</g>

<!-- status -->
<rect x="8" y="837" width="1520" height="20" fill="#436688"/>
<text x="8" y="852" class="m" fill="#eee" textLength="96" lengthAdjust="spacingAndGlyphs">Version:1.0.0.50</text>
<text x="1329" y="852" class="m" fill="#eee" textLength="192" lengthAdjust="spacingAndGlyphs">Component:C6217 Model:0506 Pin:1</text>
<rect x="8" y="491" width="4" height="7" fill="#fff"/><path d="M8 492l4 2.500-4 2.500z" fill="#f02030"/>
</svg>
</body></html>
